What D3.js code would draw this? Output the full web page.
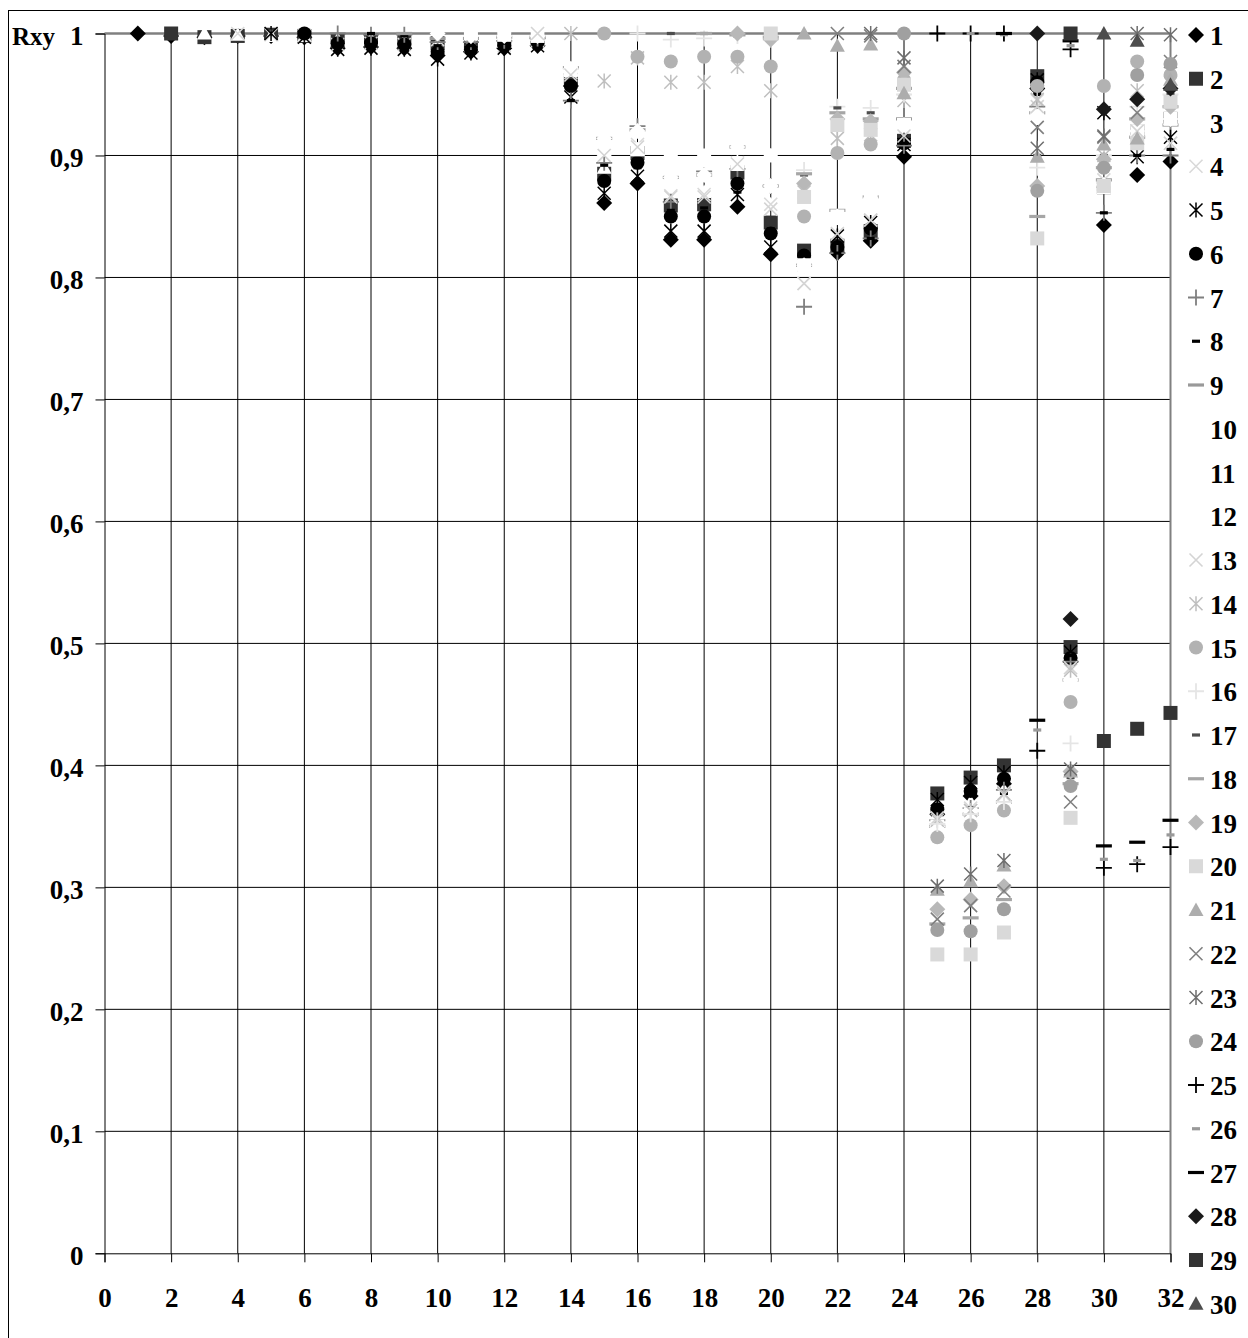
<!DOCTYPE html>
<html>
<head>
<meta charset="utf-8">
<script src="https://cdn.jsdelivr.net/npm/d3@7"></script>
<style>
  body { margin: 0; background: #fff; }
  svg { display: block; }
  text { font-family: "Liberation Serif", "Times New Roman", serif; font-weight: bold; fill: #000; }
</style>
</head>
<body>
<svg id="chart" width="1248" height="1338"></svg>
<script>
// Correlation coefficients Rxy. Series k holds r(k, x) for x = k .. 32,
// so every series starts on the diagonal (r = 1 at x = k).
const s1  = [1, .998, .997, .998, .998, .997, .988, .989, .988, .982, .985, .988, .99, .957, .861, .877, .831, .831, .858, .819, .81, .82, .83, .899, .36, .375, .385, .955, .485, .843, .884, .895];
const s2  = [1, .997, .998, .999, .998, .994, .994, .993, .992, .993, .994, .995, .962, .885, .902, .859, .86, .886, .845, .822, .826, .838, .912, .377, .39, .4, .965, .497, .874, .92, .93];
const s3  = [1, .999, .998, .998, .995, .995, .994, .99, .992, .993, .995, .97, .89, .905, .87, .87, .893, .86, .81, .85, .865, .925, .36, .37, .38, .932, .48, .875, .92, .93];
const s4  = [1, .999, .998, .991, .992, .991, .995, .99, .99, .994, .968, .9, .909, .867, .868, .894, .86, .795, .835, .847, .916, .357, .365, .378, .945, .48, .88, .92, .91];
const s5  = [1, .997, .987, .988, .987, .979, .984, .988, .99, .948, .869, .883, .838, .838, .868, .825, .81, .834, .845, .909, .372, .386, .394, .962, .493, .935, .899, .915];
const s6  = [1, .992, .992, .991, .985, .987, .99, .993, .957, .879, .894, .85, .85, .877, .836, .818, .825, .84, .91, .364, .379, .389, .96, .488, .874, .92, .93];
const s7  = [1, .999, .999, .993, .993, .994, .996, .945, .894, .924, .862, .887, .889, .875, .776, .82, .832, .908, .355, .365, .38, .94, .485, .853, .9, .9];
const s8  = [1, .998, .99, .99, .992, .994, .945, .892, .89, .855, .857, .87, .84, .82, .82, .832, .91, .354, .365, .377, .95, .49, .853, .9, .905];
const s9  = [1, .996, .996, .997, .997, .972, .914, .921, .882, .884, .907, .875, .81, .855, .866, .93, .35, .36, .37, .935, .47, .88, .915, .925];
const s10 = [1, .998, .998, .998, .971, .914, .92, .882, .884, .907, .875, .81, .85, .865, .925, .35, .36, .37, .932, .47, .876, .92, .93];
const s11 = [1, .999, .998, .97, .905, .905, .9, .9, .893, .9, .81, .85, .865, .925, .35, .36, .37, .932, .47, .874, .92, .93];
const s12 = [1, .999, .97, .905, .905, .895, .895, .895, .9, .808, .848, .862, .924, .35, .36, .37, .93, .47, .874, .92, .93];
const s13 = [1, .966, .9, .907, .866, .866, .893, .856, .795, .836, .847, .916, .357, .363, .376, .94, .48, .875, .92, .91];
const s14 = [1, .961, .98, .96, .96, .973, .953, .87, .914, .917, .945, .355, .363, .377, .946, .478, .9, .953, .96];
const s15 = [1, .981, .977, .981, .981, .973, .85, .902, .909, .962, .341, .351, .363, .957, .452, .957, .977, .966];
const s16 = [1, .995, .996, .998, .995, .888, .94, .939, .95, .352, .36, .37, .89, .418, .9, .94, .95];
const s17 = [1, 1, .998, .995, .884, .939, .935, .96, .265, .264, .284, .9, .39, .9, .93, .95];
const s18 = [1, .999, .997, .885, .935, .93, .955, .27, .275, .29, .85, .385, .89, .93, .94];
const s19 = [1, .995, .877, .93, .928, .968, .282, .29, .301, .875, .395, .897, .93, .94];
const s20 = [1, .866, .925, .921, .958, .245, .245, .263, .832, .357, .875, .91, .944];
const s21 = [1, .99, .991, .951, .298, .305, .318, .899, .395, .909, .914, .962];
const s22 = [1, .998, .973, .274, .285, .297, .923, .37, .915, .935, .977];
const s23 = [1, .98, .301, .311, .322, .906, .397, .916, 1, .999];
const s24 = [1, .265, .264, .282, .871, .383, .89, .966, .975];
const s25 = [1, 1, 1, .412, .987, .316, .319, .333];
const s26 = [1, .999, .429, .99, .323, .322, .343];
const s27 = [1, .437, .994, .334, .337, .355];
const s28 = [1, .52, .938, .946, .955];
const s29 = [1, .42, .43, .443];
const s30 = [1, .994, .958];

const seriesValues = [s1, s2, s3, s4, s5, s6, s7, s8, s9, s10, s11, s12, s13, s14, s15,
                      s16, s17, s18, s19, s20, s21, s22, s23, s24, s25, s26, s27, s28, s29, s30];
const seriesNames = ["1","2","3","4","5","6","7","8","9","10","11","12","13","14","15",
                     "16","17","18","19","20","21","22","23","24","25","26","27","28","29","30"];

const xTickValues = [0, 2, 4, 6, 8, 10, 12, 14, 16, 18, 20, 22, 24, 26, 28, 30, 32];
const xTickLabels = ["0","2","4","6","8","10","12","14","16","18","20","22","24","26","28","30","32"];
const yTickValues = [0, 0.1, 0.2, 0.3, 0.4, 0.5, 0.6, 0.7, 0.8, 0.9, 1];
const yTickLabels = ["0","0,1","0,2","0,3","0,4","0,5","0,6","0,7","0,8","0,9","1"];
const yTitle = "Rxy";

// Marker styles (cycle of nine shapes, greyscale palette)
const markerShapes = ["diamond","square","triangle","cross","star","circle","plus","dashShort","dashLong",
                      "diamond","square","triangle","cross","star","circle","plus","dashShort","dashLong",
                      "diamond","square","triangle","cross","star","circle","plus","dashShort","dashLong",
                      "diamond","square","triangle"];
const markerColors = ["#000000","#333333","#ffffff","#d9d9d9","#000000","#000000","#7f7f7f","#000000","#999999",
                      "#ffffff","#ffffff","#ffffff","#d4d4d4","#bfbfbf","#b2b2b2","#e5e5e5","#4d4d4d","#a6a6a6",
                      "#b8b8b8","#d9d9d9","#adadad","#808080","#6e6e6e","#a0a0a0","#000000","#999999","#000000",
                      "#1a1a1a","#333333","#4d4d4d"];

// Custom d3 symbol types; "size" is used as the half-extent in pixels
const shapes = {
  diamond:  { filled: true,  size: 8,   draw(c, r) { c.moveTo(0, -r); c.lineTo(r, 0); c.lineTo(0, r); c.lineTo(-r, 0); c.closePath(); } },
  square:   { filled: true,  size: 7,   draw(c, r) { c.rect(-r, -r, 2 * r, 2 * r); } },
  triangle: { filled: true,  size: 7.5, draw(c, r) { c.moveTo(0, -r); c.lineTo(r, r * 0.8); c.lineTo(-r, r * 0.8); c.closePath(); } },
  circle:   { filled: true,  size: 7,   draw(c, r) { c.moveTo(r, 0); c.arc(0, 0, r, 0, 2 * Math.PI); } },
  cross:    { filled: false, size: 6.5, width: 1.6, draw(c, r) { c.moveTo(-r, -r); c.lineTo(r, r); c.moveTo(-r, r); c.lineTo(r, -r); } },
  star:     { filled: false, size: 6.5, width: 1.5, draw(c, r) { c.moveTo(-r, -r); c.lineTo(r, r); c.moveTo(-r, r); c.lineTo(r, -r); c.moveTo(0, -r - 1); c.lineTo(0, r + 1); } },
  plus:     { filled: false, size: 8,   width: 1.8, draw(c, r) { c.moveTo(-r, 0); c.lineTo(r, 0); c.moveTo(0, -r); c.lineTo(0, r); } },
  dashShort:{ filled: true,  size: 4,   draw(c, r) { c.rect(-r, -1.6, 2 * r, 3.2); } },
  dashLong: { filled: true,  size: 8,   draw(c, r) { c.rect(-r, -1.6, 2 * r, 3.2); } }
};

const svg = d3.select("#chart");
const W = 1248, H = 1338;
const plot = { left: 104.5, right: 1170.5, top: 33.5, bottom: 1253.3 };

const x = d3.scaleLinear().domain([0, 32]).range([plot.left, plot.right]);
const y = d3.scaleLinear().domain([0, 1]).range([plot.bottom, plot.top]);

// chart-area frame
svg.append("rect").attr("x", 8.5).attr("y", 10.5).attr("width", W + 10).attr("height", H + 10)
  .attr("fill", "#fff").attr("stroke", "#000").attr("stroke-width", 1);

// gridlines
const grid = svg.append("g");
grid.selectAll("line.h").data(yTickValues.slice(1, -1)).join("line")
  .attr("x1", plot.left).attr("x2", plot.right)
  .attr("y1", d => y(d)).attr("y2", d => y(d))
  .attr("stroke", "#000").attr("stroke-width", 1);
grid.selectAll("line.v").data(xTickValues.slice(1, -1)).join("line")
  .attr("y1", plot.top).attr("y2", plot.bottom)
  .attr("x1", d => x(d)).attr("x2", d => x(d))
  .attr("stroke", "#000").attr("stroke-width", 1);

// grey plot-area border on top and right
svg.append("line").attr("x1", plot.left).attr("x2", plot.right).attr("y1", y(1)).attr("y2", y(1))
  .attr("stroke", "#808080").attr("stroke-width", 2.5);
svg.append("line").attr("x1", x(32)).attr("x2", x(32)).attr("y1", plot.top).attr("y2", plot.bottom)
  .attr("stroke", "#808080").attr("stroke-width", 2);

// axes
const yAxis = d3.axisLeft(y).tickValues(yTickValues)
  .tickFormat((d, i) => yTickLabels[i]).tickSize(9).tickPadding(12);
const gy = svg.append("g").attr("transform", `translate(${plot.left},0)`).call(yAxis);
gy.select(".domain").attr("stroke", "#000").attr("stroke-width", 1);
gy.selectAll(".tick line").attr("stroke", "#000");
gy.selectAll(".tick text").attr("font-size", 27).attr("font-family", null).attr("dy", 11);

const xAxis = d3.axisBottom(x).tickValues(xTickValues)
  .tickFormat((d, i) => xTickLabels[i]).tickSize(9).tickPadding(34);
const gx = svg.append("g").attr("transform", `translate(0,${plot.bottom})`).call(xAxis);
gx.select(".domain").attr("stroke", "#000").attr("stroke-width", 1);
gx.selectAll(".tick line").attr("stroke", "#000");
gx.selectAll(".tick text").attr("font-size", 27).attr("font-family", null).attr("dy", 11);
svg.selectAll(".tick text").attr("fill", "#000");

svg.append("text").attr("x", 12).attr("y", 45).attr("font-size", 25).text(yTitle);

// markers
function markerAttrs(sel, i) {
  const def = shapes[markerShapes[i]];
  const col = markerColors[i];
  sel.attr("d", d3.symbol().type(def).size(def.size)())
    .attr("fill", def.filled ? col : "none")
    .attr("stroke", def.filled ? "none" : col)
    .attr("stroke-width", def.filled ? 0 : def.width);
}

const marks = svg.append("g");
seriesValues.forEach((vals, i) => {
  const pts = vals.map((v, j) => ({ x: i + 1 + j, v }));
  marks.append("g").selectAll("path").data(pts).join("path")
    .attr("transform", d => `translate(${x(d.x)},${y(d.v)})`)
    .call(markerAttrs, i);
});

// legend
const legend = svg.append("g");
seriesNames.forEach((name, i) => {
  const cy = 35 + i * 43.75;
  legend.append("path").attr("transform", `translate(1196,${cy})`).call(markerAttrs, i);
  legend.append("text").attr("x", 1210).attr("y", cy + 10).attr("font-size", 27).text(name);
});
</script>
</body>
</html>
